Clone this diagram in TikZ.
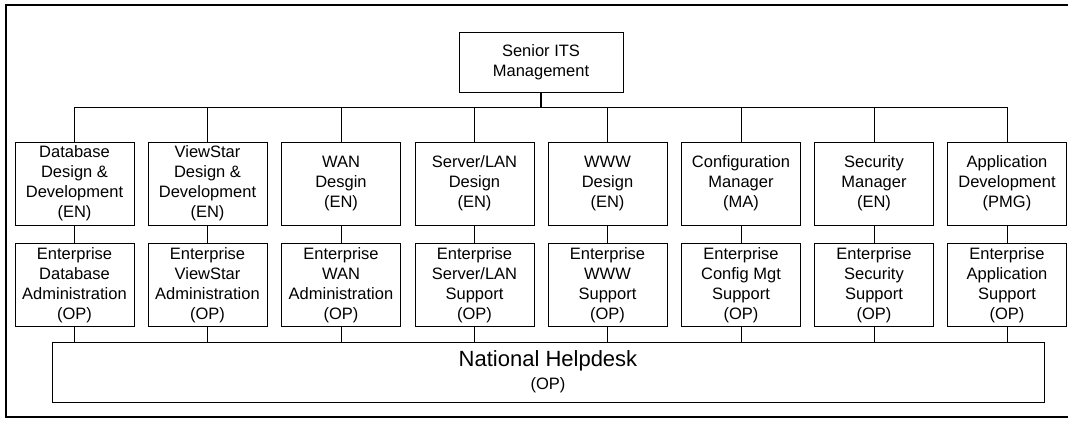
\documentclass[tikz,border=0pt]{standalone}
\usepackage{fontspec}
\setmainfont{Liberation Sans}
\begin{document}
\begin{tikzpicture}[x=1pt,y=-1pt,
  box/.style={draw, line width=0.9pt, minimum width=119pt, minimum height=83pt, inner sep=0pt, align=center, font=\fontsize{16.5}{20}\selectfont},
  conn/.style={line width=0.9pt},
  frame/.style={line width=2.5pt}]
\useasboundingbox (0,0) rectangle (1068,421);
\fill[white] (0,0) rectangle (1068,421);
\draw[frame] (1068,5) -- (6,5) -- (6,417) -- (1068,417);

\node[box, minimum width=164pt, minimum height=60pt] (sen) at (541,62) {Senior ITS\\Management};
\coordinate (bus) at (541,107);

\node[box] (a1) at (74.5,183.5) {Database\\Design \&\\Development\\(EN)};
\node[box] (a2) at (207.5,183.5) {ViewStar\\Design \&\\Development\\(EN)};
\node[box] (a3) at (341,183.5) {WAN\\Desgin\\(EN)};
\node[box] (a4) at (474.5,183.5) {Server/LAN\\Design\\(EN)};
\node[box] (a5) at (607.5,183.5) {WWW\\Design\\(EN)};
\node[box] (a6) at (741,183.5) {Configuration\\Manager\\(MA)};
\node[box] (a7) at (874,183.5) {Security\\Manager\\(EN)};
\node[box] (a8) at (1007,183.5) {Application\\Development\\(PMG)};

\node[box] (b1) at (74.5,285) {Enterprise\\Database\\Administration\\(OP)};
\node[box] (b2) at (207.5,285) {Enterprise\\ViewStar\\Administration\\(OP)};
\node[box] (b3) at (341,285) {Enterprise\\WAN\\Administration\\(OP)};
\node[box] (b4) at (474.5,285) {Enterprise\\Server/LAN\\Support\\(OP)};
\node[box] (b5) at (607.5,285) {Enterprise\\WWW\\Support\\(OP)};
\node[box] (b6) at (741,285) {Enterprise\\Config Mgt\\Support\\(OP)};
\node[box] (b7) at (874,285) {Enterprise\\Security\\Support\\(OP)};
\node[box] (b8) at (1007,285) {Enterprise\\Application\\Support\\(OP)};

\node[box, minimum width=992pt, minimum height=60pt, font=\fontsize{16.5}{20}\selectfont] (help) at (548,372)
  {{\fontsize{22}{24}\selectfont National Helpdesk}\\[3pt](OP)};

\draw[line width=2pt] (sen.south) -- (bus);
\draw[conn] (a1.north |- bus) -- (a8.north |- bus);
\foreach \i in {1,...,8}{
  \draw[conn] (a\i.north) -- (a\i.north |- bus);
  \draw[conn] (a\i.south) -- (b\i.north);
  \draw[conn] (b\i.south) -- (b\i.south |- help.north);
}
\end{tikzpicture}
\end{document}
